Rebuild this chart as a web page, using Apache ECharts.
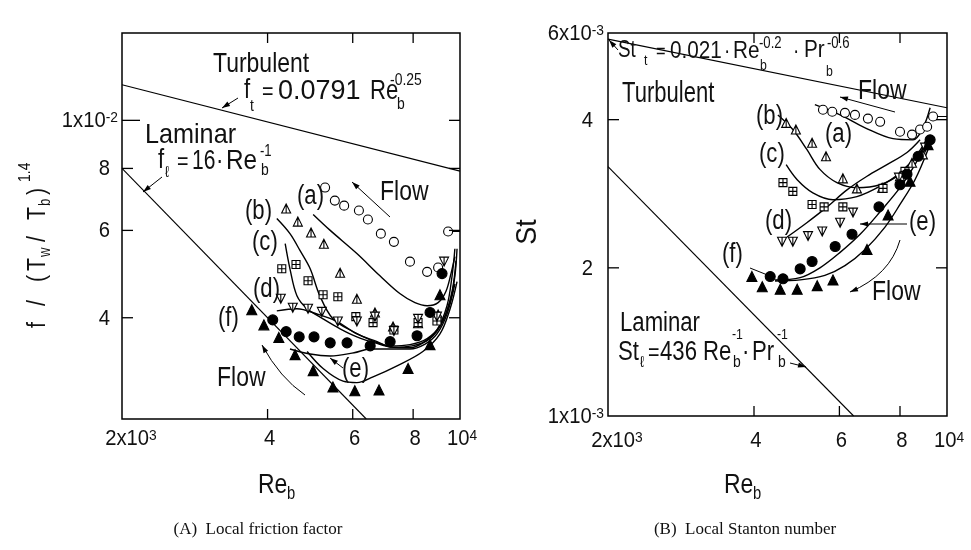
<!DOCTYPE html>
<html>
<head>
<meta charset="utf-8">
<script src="https://cdn.jsdelivr.net/npm/echarts@6/dist/echarts.min.js"></script>
<style>
html, body { margin: 0; background: #fff; }
#chart { width: 971px; height: 550px; }
</style>
</head>
<body>
<div id="chart"></div>
<script>
var FONT = '"Liberation Sans", Arimo, sans-serif'
var SERIF = '"Liberation Serif", "DejaVu Serif", serif'

// axes
var reRange = [2000, 10000]
var fRange = [0.0025, 0.015]
var stRange = [0.001, 0.006]
var reTicks = [2000, 4000, 6000, 8000, 10000]
var reTickText = ['2x10{s|3}', '4', '6', '8', '10{s|4}']
var fTicks = [0.004, 0.006, 0.008, 0.01]
var fTickText = ['4', '6', '8', '1x10{s|-2}']
var stTicks = [0.001, 0.002, 0.004, 0.006]
var stTickText = ['1x10{s|-3}', '2', '4', '6x10{s|-3}']

// (A) friction factor
var reTurbA = [2000, 10000]
var fTurbA = [0.0118, 0.0079]
var reLamA = [2000, 6400]
var fLamA = [0.008, 0.0025]

var reA_a = [5260, 5510, 5760, 6180, 6450, 6860, 7300, 7880, 8550, 9010, 9450]
var fA_a = [0.00732, 0.00689, 0.00673, 0.00658, 0.00631, 0.00591, 0.00569, 0.00519, 0.00495, 0.00505, 0.00597]
var reA_b = [4370, 4620, 4920, 5230, 5650, 6120, 6670, 7270, 8190, 9010]
var fA_b = [0.00664, 0.00625, 0.00594, 0.00564, 0.00493, 0.00437, 0.0041, 0.00384, 0.0039, 0.00406]
var reA_c = [4280, 4580, 4850, 5210, 5590, 6090, 6610, 7300, 8190, 8960]
var fA_c = [0.00502, 0.00512, 0.00475, 0.00445, 0.00441, 0.00402, 0.00391, 0.00378, 0.00391, 0.00394]
var reA_d = [4260, 4510, 4850, 5180, 5590, 6120, 6670, 7300, 8190, 8960, 9270]
var fA_d = [0.00437, 0.00419, 0.00417, 0.00411, 0.00393, 0.00393, 0.00402, 0.00376, 0.00398, 0.00402, 0.00519]
var reA_e = [4100, 4370, 4650, 4990, 5390, 5840, 6520, 7170, 8150, 8670, 9180]
var fA_e = [0.00396, 0.00375, 0.00366, 0.00366, 0.00356, 0.00356, 0.00351, 0.00358, 0.00368, 0.0041, 0.00491]
var reA_f = [3710, 3930, 4220, 4560, 4970, 5460, 6060, 6800, 7810, 8670, 9090]
var fA_f = [0.00415, 0.00387, 0.00365, 0.00337, 0.00313, 0.0029, 0.00285, 0.00286, 0.00316, 0.00353, 0.00445]
var reTailA = [9450, 10000]
var fTailA = [0.00597, 0.00597]

// (A) fitted curves
var reCurA_a = [4970, 5390, 6120, 6830, 7520, 8070, 8550, 9010, 9350, 9580, 9760]
var fCurA_a = [0.00646, 0.006, 0.00539, 0.00486, 0.00447, 0.00429, 0.00423, 0.00429, 0.00452, 0.00491, 0.00531]
var reCurA_b = [4180, 4450, 4670, 4900, 5130, 5460, 6010, 6610, 7170, 7880, 8550, 9090, 9540, 9760, 9860]
var fCurA_b = [0.00634, 0.00591, 0.00546, 0.00502, 0.00443, 0.00398, 0.00375, 0.00359, 0.00351, 0.00353, 0.00363, 0.00385, 0.00431, 0.00486, 0.00551]
var reCurA_c = [4350, 4450, 4600, 4830, 5210, 5650, 6120, 6670, 7270, 7960, 8670, 9220, 9630, 9810]
var fCurA_c = [0.00564, 0.00502, 0.00443, 0.00417, 0.00398, 0.0038, 0.00366, 0.00356, 0.00349, 0.00351, 0.00363, 0.00394, 0.00452, 0.00521]
var reCurA_d = [4180, 4600, 5060, 5570, 6120, 6740, 7170, 7880, 8380, 8960, 9400, 9630, 9760]
var fCurA_d = [0.00413, 0.00417, 0.00407, 0.00393, 0.00371, 0.00358, 0.00349, 0.00348, 0.00356, 0.00378, 0.00423, 0.00486, 0.00551]
var reCurA_e = [4450, 4900, 5390, 6040, 6520, 7170, 7880, 8470, 8960, 9400, 9760]
var fCurA_e = [0.00346, 0.00338, 0.00335, 0.0034, 0.00346, 0.00346, 0.00346, 0.00354, 0.00371, 0.00407, 0.00468]
var reCurA_f = [4830, 5210, 5730, 6120, 6610, 7410, 8380, 9090, 9540, 9860]
var fCurA_f = [0.00342, 0.00316, 0.00298, 0.00296, 0.00304, 0.0032, 0.00342, 0.00371, 0.00417, 0.00473]

// (B) Stanton number
var reTurbB = [2000, 10000]
var stTurbB = [0.00583, 0.00423]
var reLamB = [2000, 6420]
var stLamB = [0.00321, 0.001]

var reB_a = [5550, 5800, 6160, 6460, 6870, 7280, 8000, 8470, 8800, 9100, 9360]
var stB_a = [0.00419, 0.00415, 0.00413, 0.00409, 0.00402, 0.00396, 0.00378, 0.00373, 0.00382, 0.00387, 0.00406]
var reB_b = [4660, 4880, 5270, 5630, 6100, 6520, 7350, 8000, 8470, 8920]
var stB_b = [0.00394, 0.00382, 0.00359, 0.00337, 0.00304, 0.0029, 0.00291, 0.00307, 0.00327, 0.0034]
var reB_c = [4590, 4810, 5270, 5580, 6100, 7380, 8190]
var stB_c = [0.00298, 0.00286, 0.00269, 0.00266, 0.00266, 0.0029, 0.00314]
var reB_d = [4570, 4810, 5170, 5530, 6020, 6400, 7960, 9010]
var stB_d = [0.00226, 0.00226, 0.00232, 0.00237, 0.00247, 0.00259, 0.00305, 0.00351]
var reB_e = [4320, 4590, 4980, 5270, 5880, 6370, 7240, 8000, 8270, 8720, 9230]
var stB_e = [0.00192, 0.0019, 0.00199, 0.00206, 0.00221, 0.00234, 0.00266, 0.00295, 0.0031, 0.00337, 0.00364]
var reB_f = [3960, 4160, 4530, 4910, 5400, 5820, 6840, 7560, 8390, 9140]
var stB_f = [0.00192, 0.00183, 0.00181, 0.00181, 0.00184, 0.00189, 0.00218, 0.00256, 0.003, 0.00356]
var reTailB = [9360, 10000]
var stTailB = [0.00406, 0.00406]

// (B) fitted curves
var reCurB_a = [5340, 6020, 6780, 7740, 8510, 8920, 9230]
var stCurB_a = [0.00429, 0.00409, 0.00385, 0.00366, 0.00364, 0.00385, 0.00423]
var reCurB_b = [4480, 4810, 5140, 5470, 5930, 6520, 7280, 8000, 8680, 9230]
var stCurB_b = [0.00409, 0.00382, 0.00348, 0.00317, 0.00298, 0.00291, 0.00295, 0.0031, 0.00337, 0.0037]
var reCurB_c = [4660, 4910, 5290, 5820, 6520, 7280, 8000, 8680, 9140]
var stCurB_c = [0.00324, 0.00302, 0.00284, 0.00275, 0.00279, 0.00293, 0.00312, 0.0034, 0.0037]
var reCurB_d = [4680, 5140, 5660, 6220, 6840, 7520, 8270, 8800]
var stCurB_d = [0.00231, 0.00247, 0.00266, 0.00288, 0.00307, 0.00324, 0.00343, 0.00364]
var reCurB_e = [4420, 4980, 5470, 6020, 6620, 7280, 8000, 8590, 9010]
var stCurB_e = [0.00189, 0.00191, 0.002, 0.00215, 0.00234, 0.0026, 0.00291, 0.00324, 0.00356]
var reCurB_f = [4420, 4980, 5600, 6160, 6780, 7450, 8000, 8590, 9140]
var stCurB_f = [0.00188, 0.00189, 0.00193, 0.00202, 0.00218, 0.00242, 0.00269, 0.00302, 0.00348]

var SYM_TRI_UP = 'path://M5,0 L10,10 L0,10 Z M5,0 L5,10'
var SYM_TRI_DN = 'path://M0,0 L10,0 L5,10 Z M5,0 L5,10'
var SYM_SQ = 'path://M0,0 L10,0 L10,10 L0,10 Z M5,0 L5,10 M0,5 L10,5'

function pairs (xs, ys) {
    return xs.map(function (x, i) { return [x, ys[i]] })
}

function straight (gi, xs, ys) {
    return {
        type: 'line', xAxisIndex: gi, yAxisIndex: gi, data: pairs(xs, ys),
        symbol: 'none', silent: true, z: 2,
        lineStyle: { color: '#000', width: 1.1 }
    }
}

function curve (gi, xs, ys) {
    return {
        type: 'line', xAxisIndex: gi, yAxisIndex: gi, data: pairs(xs, ys),
        symbol: 'none', smooth: 0.35, silent: true, z: 2,
        lineStyle: { color: '#000', width: 1.4 }
    }
}

function pts (gi, xs, ys, sym, fill, size) {
    return {
        type: 'scatter', xAxisIndex: gi, yAxisIndex: gi, data: pairs(xs, ys),
        symbol: sym, symbolSize: size, silent: true, z: 4,
        itemStyle: { color: fill, borderColor: '#000', borderWidth: 1.1, opacity: 1 }
    }
}

function tickStyle (text, align, vAlign) {
    return {
        text: text, fontFamily: FONT, fontSize: 22, fill: '#111',
        align: align, verticalAlign: vAlign,
        rich: { s: { fontFamily: FONT, fontSize: 15, verticalAlign: 'top', fill: '#111' } }
    }
}

// tick marks and labels, placed with the axis scale
function xTicks (gi, yr, gap) {
    return {
        type: 'custom', xAxisIndex: gi, yAxisIndex: gi, silent: true, z: 5,
        data: reTicks.map(function (v) { return [v, yr[0]] }),
        renderItem: function (params, api) {
            var v = api.value(0)
            var b = api.coord([v, yr[0]])
            var t = api.coord([v, yr[1]])
            var kids = []
            if (v > reRange[0] && v < reRange[1]) {
                kids.push({ type: 'line', shape: { x1: b[0], y1: b[1], x2: b[0], y2: b[1] - 10 }, style: { stroke: '#000', lineWidth: 1.3 } })
                kids.push({ type: 'line', shape: { x1: t[0], y1: t[1], x2: t[0], y2: t[1] + 10 }, style: { stroke: '#000', lineWidth: 1.3 } })
            }
            var dx = v === reRange[0] ? 9 : 2
            kids.push({ type: 'text', x: b[0] + dx, y: b[1] + gap, scaleX: 0.92, style: tickStyle(reTickText[params.dataIndex], 'center', 'top') })
            return { type: 'group', children: kids }
        }
    }
}

function yTicks (gi, vals, texts, yr, gap) {
    return {
        type: 'custom', xAxisIndex: gi, yAxisIndex: gi, silent: true, z: 5,
        data: vals.map(function (v) { return [reRange[0], v] }),
        renderItem: function (params, api) {
            var v = api.value(1)
            var l = api.coord([reRange[0], v])
            var r = api.coord([reRange[1], v])
            var kids = []
            var len = Math.abs(Math.log10(v) - Math.round(Math.log10(v))) < 1e-6 ? 18 : 11
            if (v > yr[0] && v < yr[1]) {
                kids.push({ type: 'line', shape: { x1: l[0], y1: l[1], x2: l[0] + len, y2: l[1] }, style: { stroke: '#000', lineWidth: 1.3 } })
                kids.push({ type: 'line', shape: { x1: r[0], y1: r[1], x2: r[0] - 11, y2: r[1] }, style: { stroke: '#000', lineWidth: 1.3 } })
            }
            var txt = texts[params.dataIndex]
            var off = txt.length > 2 ? 4 : gap
            kids.push({ type: 'text', x: l[0] - off, y: l[1] + 1, scaleX: 0.92, style: tickStyle(txt, 'right', 'middle') })
            return { type: 'group', children: kids }
        }
    }
}

// annotation helpers (pixel positions)
function T (x, y, s, size, opt) {
    opt = opt || {}
    var al = opt.align || 'left'
    return {
        type: 'text', x: x, y: y, silent: true, z: 10,
        scaleX: opt.sx || 0.82,
        style: {
            text: s, fontFamily: opt.fam || FONT, fontSize: size, fill: '#111',
            align: al, textAlign: al, verticalAlign: 'middle', textVerticalAlign: 'middle'
        }
    }
}

function head (x2, y2, ux, uy) {
    var bx = x2 - ux * 8, by = y2 - uy * 8
    return {
        type: 'polygon', silent: true, z: 10,
        shape: { points: [[x2, y2], [bx - uy * 2.6, by + ux * 2.6], [bx + uy * 2.6, by - ux * 2.6]] },
        style: { fill: '#000' }
    }
}

function arrow (x1, y1, x2, y2, noHead) {
    var dx = x2 - x1, dy = y2 - y1, L = Math.sqrt(dx * dx + dy * dy)
    var out = [{ type: 'line', silent: true, z: 10, shape: { x1: x1, y1: y1, x2: x2, y2: y2 }, style: { stroke: '#000', lineWidth: 1 } }]
    if (!noHead) out.push(head(x2, y2, dx / L, dy / L))
    return out
}

function bentArrow (x1, y1, cx, cy, x2, y2) {
    var dx = x2 - cx, dy = y2 - cy, L = Math.sqrt(dx * dx + dy * dy)
    return [
        { type: 'bezierCurve', silent: true, z: 10, shape: { x1: x1, y1: y1, cpx1: cx, cpy1: cy, x2: x2, y2: y2 }, style: { stroke: '#000', lineWidth: 1, fill: null } },
        head(x2, y2, dx / L, dy / L)
    ]
}

var notes = [
    // panel A
    T(213, 64, 'Turbulent', 28),
    T(244, 91, 'f', 27), T(250, 106, 't', 17), T(262, 92, '=', 24), T(278, 92, '0.0791', 27, { sx: 1 }),
    T(370, 92, 'Re', 27), T(390, 80, '-0.25', 17), T(397, 104, 'b', 17),
    T(145, 135, 'Laminar', 28, { sx: 0.9 }),
    T(158, 161, 'f', 27), T(165, 173, '\u2113', 16), T(177, 162, '=', 24), T(192, 162, '16', 27, { sx: 0.78 }),
    T(216, 162, '\u00b7', 27), T(226, 162, 'Re', 27, { sx: 0.9 }), T(260, 152, '-1', 16), T(261, 170, 'b', 17),
    T(380, 192, 'Flow', 28), T(217, 378, 'Flow', 28),
    T(297, 197, '(a)', 27), T(245, 212, '(b)', 27), T(252, 243, '(c)', 27),
    T(253, 290, '(d)', 27), T(218, 319, '(f)', 27), T(342, 370, '(e)', 27),
    // panel B
    T(618, 51, 'St', 23), T(644, 61, 't', 15), T(656, 52, '=', 20), T(670, 52, '0.021', 23, { sx: 0.9 }),
    T(724, 52, '\u00b7', 23), T(733, 52, 'Re', 23, { sx: 0.9 }), T(759, 44, '-0.2', 16), T(760, 66, 'b', 15),
    T(793, 52, '\u00b7', 23), T(804, 51, 'Pr', 23, { sx: 0.9 }), T(827, 44, '-0.6', 16), T(826, 72, 'b', 15),
    T(622, 94, 'Turbulent', 29, { sx: 0.76 }),
    T(858, 91, 'Flow', 28),
    T(620, 324, 'Laminar', 27),
    T(618, 353, 'St', 27), T(640, 363, '\u2113', 16), T(648, 353, '=', 24), T(660, 353, '436', 27),
    T(703, 353, 'Re', 27), T(732, 335, '-1', 15), T(733, 362, 'b', 17), T(742, 353, '\u00b7', 27),
    T(752, 353, 'Pr', 27), T(777, 335, '-1', 15), T(778, 362, 'b', 17),
    T(756, 117, '(b)', 27), T(825, 135, '(a)', 27), T(759, 155, '(c)', 27),
    T(765, 222, '(d)', 27), T(909, 223, '(e)', 27), T(722, 255, '(f)', 27),
    T(872, 292, 'Flow', 28),
    // axis titles
    {
        type: 'group', x: 38, y: 328, rotation: Math.PI / 2, silent: true,
        children: [
            T(0, 0, 'f', 26), T(22, 0, '/', 26), T(46, 0, '(', 26), T(57, 0, 'T', 26), T(71, 8, 'w', 16),
            T(86, 0, '/', 26), T(108, 0, 'T', 26), T(122, 8, 'b', 16), T(133, 0, ')', 26), T(146, -13, '1.4', 17)
        ]
    },
    { type: 'group', x: 528, y: 232, rotation: Math.PI / 2, silent: true, children: [T(0, 0, 'St', 30, { align: 'center', sx: 0.9 })] },
    T(258, 485, 'Re', 28), T(287, 494, 'b', 18),
    T(724, 485, 'Re', 28), T(753, 494, 'b', 18),
    T(258, 530, '(A)  Local friction factor', 17, { fam: SERIF, align: 'center', sx: 1 }),
    T(745, 530, '(B)  Local Stanton number', 17, { fam: SERIF, align: 'center', sx: 1 })
]
notes = notes
    .concat(arrow(238, 98, 222, 108))
    .concat(arrow(162, 177, 143, 192))
    .concat(arrow(390, 217, 352, 182))
    .concat(bentArrow(305, 395, 280, 378, 262, 345))
    .concat(arrow(343, 368, 330, 358))
    .concat(arrow(618, 50, 609, 40))
    .concat(arrow(895, 112, 840, 97))
    .concat(arrow(790, 363, 806, 367))
    .concat(arrow(907, 224, 860, 224))
    .concat(arrow(750, 268, 770, 276, true))
    .concat(bentArrow(900, 240, 890, 275, 850, 292))

function logAxis (gi, r) {
    return {
        gridIndex: gi, type: 'log', logBase: 10, min: r[0], max: r[1],
        axisLine: { show: false }, axisTick: { show: false },
        axisLabel: { show: false }, splitLine: { show: false }
    }
}

var chart = echarts.init(document.getElementById('chart'))
chart.setOption({
    animation: false,
    backgroundColor: '#fff',
    grid: [
        { left: 122, top: 33, width: 338, height: 386, show: true, borderColor: '#000', borderWidth: 1.5, backgroundColor: 'transparent' },
        { left: 608, top: 33, width: 339, height: 383, show: true, borderColor: '#000', borderWidth: 1.5, backgroundColor: 'transparent' }
    ],
    xAxis: [logAxis(0, reRange), logAxis(1, reRange)],
    yAxis: [logAxis(0, fRange), logAxis(1, stRange)],
    series: [
        straight(0, reTurbA, fTurbA),
        straight(0, reLamA, fLamA),
        straight(0, reTailA, fTailA),
        curve(0, reCurA_a, fCurA_a),
        curve(0, reCurA_b, fCurA_b),
        curve(0, reCurA_c, fCurA_c),
        curve(0, reCurA_d, fCurA_d),
        curve(0, reCurA_e, fCurA_e),
        curve(0, reCurA_f, fCurA_f),
        pts(0, reA_a, fA_a, 'circle', '#fff', 9),
        pts(0, reA_b, fA_b, SYM_TRI_UP, '#fff', 9),
        pts(0, reA_c, fA_c, SYM_SQ, '#fff', 8),
        pts(0, reA_d, fA_d, SYM_TRI_DN, '#fff', 9),
        pts(0, reA_e, fA_e, 'circle', '#000', 10),
        pts(0, reA_f, fA_f, 'triangle', '#000', 10),
        xTicks(0, fRange, 9),
        yTicks(0, fTicks, fTickText, fRange, 12),

        straight(1, reTurbB, stTurbB),
        straight(1, reLamB, stLamB),
        straight(1, reTailB, stTailB),
        curve(1, reCurB_a, stCurB_a),
        curve(1, reCurB_b, stCurB_b),
        curve(1, reCurB_c, stCurB_c),
        curve(1, reCurB_d, stCurB_d),
        curve(1, reCurB_e, stCurB_e),
        curve(1, reCurB_f, stCurB_f),
        pts(1, reB_a, stB_a, 'circle', '#fff', 9),
        pts(1, reB_b, stB_b, SYM_TRI_UP, '#fff', 9),
        pts(1, reB_c, stB_c, SYM_SQ, '#fff', 8),
        pts(1, reB_d, stB_d, SYM_TRI_DN, '#fff', 9),
        pts(1, reB_e, stB_e, 'circle', '#000', 10),
        pts(1, reB_f, stB_f, 'triangle', '#000', 10),
        xTicks(1, stRange, 14),
        yTicks(1, stTicks, stTickText, stRange, 15)
    ],
    graphic: { elements: notes }
})
</script>
</body>
</html>
